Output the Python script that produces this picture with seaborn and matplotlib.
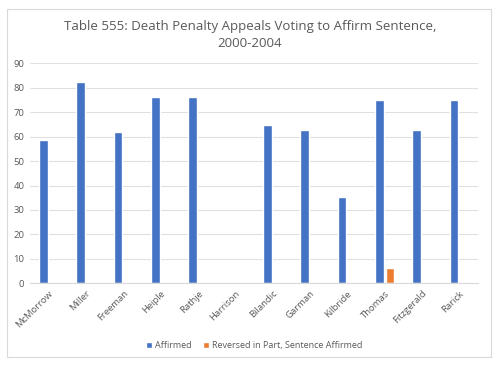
import pandas as pd
import matplotlib.pyplot as plt
import seaborn as sns
from matplotlib.patches import Rectangle

# ------------------------------------------------------
# Data
# ------------------------------------------------------

judges = ["McMorrow", "Miller", "Freeman", "Heiple", "Rathje", "Harrison",
          "Bilandic", "Garman", "Kilbride", "Thomas", "Fitzgerald", "Rarick"]
affirmed = [58.8, 82.4, 61.8, 76.4, 76.4, 0, 64.7, 62.7, 35.3, 75.0, 62.7, 75.0]
reversed_part = [0, 0, 0, 0, 0, 0, 0, 0, 0, 6.2, 0, 0]
series = ["Affirmed", "Reversed in Part, Sentence Affirmed"]

df = pd.DataFrame({
    "Judge": judges * 2,
    "Value": affirmed + reversed_part,
    "Series": [series[0]] * len(judges) + [series[1]] * len(judges),
})

# ------------------------------------------------------
# Plot
# ------------------------------------------------------

sns.set_style("white")
plt.rcParams["font.family"] = ["Open Sans", "DejaVu Sans"]
text_col = "#595959"

fig = plt.figure(figsize=(5, 3.66), dpi=100)
ax = fig.add_axes([0.06, 0.226, 0.896, 0.601])

sns.barplot(data=df, x="Judge", y="Value", hue="Series",
            palette=["#4472C4", "#ED7D31"], width=0.58, gap=0.2,
            saturation=1, ax=ax, legend=True)

ax.set_ylim(0, 90)
ax.set_yticks(range(0, 91, 10))
ax.set_xlim(-0.5, len(judges) - 0.5)
ax.yaxis.grid(True, color="#E0E0E0", lw=0.8)
ax.set_axisbelow(True)
for s in ["top", "right", "left"]:
    ax.spines[s].set_visible(False)
ax.spines["bottom"].set_color("#D9D9D9")
ax.set_xlabel("")
ax.set_ylabel("")
ax.tick_params(axis="both", length=0, labelsize=6.8, colors=text_col, pad=4)
plt.setp(ax.get_xticklabels(), rotation=45, ha="right", rotation_mode="anchor")

ax.legend(loc="upper center", bbox_to_anchor=(0.5, -0.225), ncol=2,
          frameon=False, fontsize=6.5, handlelength=0.7, handleheight=0.7,
          columnspacing=1.2, handletextpad=0.3, labelcolor=text_col)

fig.text(0.5, 0.905, "Table 555: Death Penalty Appeals Voting to Affirm Sentence,\n2000-2004",
         ha="center", va="center", fontsize=9.5, color=text_col, linespacing=1.4)

fig.patches.append(Rectangle((0.014, 0.025), 0.968, 0.95, transform=fig.transFigure,
                             fill=False, edgecolor="#D9D9D9", lw=0.8))

fig.savefig("out.png", dpi=100)
